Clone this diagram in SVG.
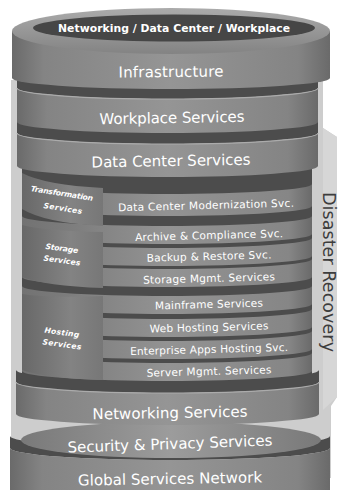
<svg xmlns="http://www.w3.org/2000/svg" width="338" height="490" viewBox="0 0 338 490">
<defs>
<style>
.big{font-family:"DejaVu Sans",Verdana,sans-serif;font-size:15px;fill:#fff;text-anchor:middle}
.row{font-family:"DejaVu Sans",Verdana,sans-serif;font-size:10.6px;fill:#fff;text-anchor:middle}
.col{font-family:"DejaVu Sans",Verdana,sans-serif;font-size:7.6px;font-weight:bold;font-style:italic;fill:#fff;text-anchor:middle}
.face{fill:#4c4c4c}
.side{fill:url(#gSide)}
.rowside{fill:url(#gRow)}
.colside{fill:url(#gCol)}
.hl{fill:none;stroke:#ababab;stroke-width:1.2}
</style>
<linearGradient id="gSide" x1="0" y1="0" x2="1" y2="0">
<stop offset="0" stop-color="#6a6a6a"/><stop offset="0.1" stop-color="#848484"/><stop offset="0.5" stop-color="#959595"/><stop offset="0.9" stop-color="#848484"/><stop offset="1" stop-color="#6a6a6a"/>
</linearGradient>
<linearGradient id="gRow" x1="0" y1="0" x2="1" y2="0">
<stop offset="0" stop-color="#727272"/><stop offset="0.5" stop-color="#939393"/><stop offset="0.92" stop-color="#868686"/><stop offset="1" stop-color="#6a6a6a"/>
</linearGradient>
<linearGradient id="gCol" x1="0" y1="0" x2="1" y2="0">
<stop offset="0" stop-color="#686868"/><stop offset="0.6" stop-color="#838383"/><stop offset="1" stop-color="#777777"/>
</linearGradient>
<linearGradient id="gRim" x1="0" y1="0" x2="0" y2="1">
<stop offset="0" stop-color="#ababab"/><stop offset="1" stop-color="#838383"/>
</linearGradient>
<linearGradient id="gSec" x1="0" y1="0" x2="1" y2="0">
<stop offset="0" stop-color="#797979"/><stop offset="0.5" stop-color="#9c9c9c"/><stop offset="1" stop-color="#797979"/>
</linearGradient>
</defs>
<rect width="338" height="490" fill="#ffffff"/>

<g id="disaster-recovery">
<polygon points="11,80 323,80 323,128 337,137 337,397 331,406 331,478 11,478" fill="#cdcdcd"/>
<polygon points="323,128 337,137 337,397 323,410" fill="#d6d6d6"/>
<text transform="translate(323,272) rotate(90)" font-family="DejaVu Sans,Verdana,sans-serif" font-size="17.5" fill="#3d3d3d" text-anchor="middle" textLength="160">Disaster Recovery</text>
</g>

<g id="global-services-network">
<path class="face" d="M10,436 A160,12 0 0 0 330,436 L330,448 A160,12 0 0 1 10,448 Z"/>
<path class="side" d="M10,448 A160,12 0 0 0 330,448 L330,500 L10,500 Z"/>
<text class="big" x="170" y="484" textLength="184" transform="rotate(-1 170 479)">Global Services Network</text>
</g>

<g id="security-privacy">
<ellipse cx="171" cy="440" rx="150" ry="18" fill="url(#gSec)"/>
<text class="big" x="170" y="449" textLength="205" transform="rotate(-2 170 444)">Security &amp; Privacy Services</text>
</g>

<g id="inner-core">
<rect x="22" y="160" width="290" height="230" fill="#4c4c4c"/>
</g>

<g id="networking-services">
<path class="face" d="M16,370 A151.5,11 0 0 0 319,370 L319,382 A151.5,11 0 0 1 16,382 Z"/>
<path class="side" d="M16,382 A151.5,11 0 0 0 319,382 L319,414 A151.5,11 0 0 1 16,414 Z"/>
<path class="hl" d="M16,382 A151.5,11 0 0 0 319,382"/>
<text class="big" x="170" y="418" textLength="155" transform="rotate(-1 170 413)">Networking Services</text>
</g>

<g id="rows">
<g id="dc-modernization">
<path class="rowside" d="M22,184 A145,10 0 0 0 312,184 L312,206 A145,10 0 0 1 22,206 Z"/>
<text class="row" x="206" y="209" textLength="176" transform="rotate(-1.5 206 205)">Data Center Modernization Svc.</text>
</g>
<g id="archive-compliance">
<path class="rowside" d="M22,216 A145,10 0 0 0 312,216 L312,234 A145,10 0 0 1 22,234 Z"/>
<text class="row" x="209" y="239" textLength="148" transform="rotate(-1.5 209 235)">Archive &amp; Compliance Svc.</text>
</g>
<g id="backup-restore">
<path class="rowside" d="M22,238 A145,10 0 0 0 312,238 L312,256 A145,10 0 0 1 22,256 Z"/>
<text class="row" x="209" y="260" textLength="125" transform="rotate(-1.5 209 256)">Backup &amp; Restore Svc.</text>
</g>
<g id="storage-mgmt">
<path class="rowside" d="M22,259 A145,10 0 0 0 312,259 L312,277 A145,10 0 0 1 22,277 Z"/>
<text class="row" x="209" y="282" textLength="132" transform="rotate(-1.5 209 278)">Storage Mgmt. Services</text>
</g>
<g id="mainframe">
<path class="rowside" d="M22,286 A145,10 0 0 0 312,286 L312,304 A145,10 0 0 1 22,304 Z"/>
<text class="row" x="209" y="308" textLength="108" transform="rotate(-1.5 209 304)">Mainframe Services</text>
</g>
<g id="web-hosting">
<path class="rowside" d="M22,309 A145,10 0 0 0 312,309 L312,327 A145,10 0 0 1 22,327 Z"/>
<text class="row" x="209" y="331" textLength="119" transform="rotate(-1.5 209 327)">Web Hosting Services</text>
</g>
<g id="enterprise-apps">
<path class="rowside" d="M22,331 A145,10 0 0 0 312,331 L312,349 A145,10 0 0 1 22,349 Z"/>
<text class="row" x="209" y="353" textLength="158" transform="rotate(-1.5 209 349)">Enterprise Apps Hosting Svc.</text>
</g>
<g id="server-mgmt">
<path class="rowside" d="M22,353 A145,10 0 0 0 312,353 L312,371 A145,10 0 0 1 22,371 Z"/>
<text class="row" x="209" y="375" textLength="125" transform="rotate(-1.5 209 371)">Server Mgmt. Services</text>
</g>
</g>

<g id="transformation-services">
<path class="colside" d="M22,173 Q45,185 103,188 L103,226 Q45,223 22,209 Z"/>
<text class="col" x="62" y="196" textLength="63" transform="rotate(9 62 193)">Transformation</text>
<text class="col" x="63" y="211" textLength="39" transform="rotate(9 63 208)">Services</text>
</g>
<g id="storage-services">
<path class="colside" d="M22,225 Q45,231 103,232 L103,288 Q45,286 22,277 Z"/>
<text class="col" x="62" y="251" textLength="33" transform="rotate(8 62 248)">Storage</text>
<text class="col" x="62" y="263" textLength="37" transform="rotate(8 62 260)">Services</text>
</g>
<g id="hosting-services">
<path class="colside" d="M22,294 Q45,298 103,296 L103,380 Q45,378 22,370 Z"/>
<text class="col" x="62" y="335" textLength="35" transform="rotate(8 62 332)">Hosting</text>
<text class="col" x="62" y="347" textLength="39" transform="rotate(8 62 344)">Services</text>
</g>

<g id="data-center-services">
<path class="face" d="M17,121 A150.5,11 0 0 0 318,121 L318,133 A150.5,11 0 0 1 17,133 Z"/>
<path class="side" d="M17,133 A150.5,11 0 0 0 318,133 L318,166 A150.5,11 0 0 1 17,166 Z"/>
<path class="hl" d="M17,133 A150.5,11 0 0 0 318,133"/>
<text class="big" x="171" y="166" textLength="159" transform="rotate(-1 171 161)">Data Center Services</text>
</g>

<g id="workplace-services">
<path class="face" d="M17,76 A150.5,11 0 0 0 318,76 L318,88 A150.5,11 0 0 1 17,88 Z"/>
<path class="side" d="M17,88 A150.5,11 0 0 0 318,88 L318,122 A150.5,11 0 0 1 17,122 Z"/>
<path class="hl" d="M17,88 A150.5,11 0 0 0 318,88"/>
<text class="big" x="172" y="123" textLength="145" transform="rotate(-1 172 118)">Workplace Services</text>
</g>

<g id="infrastructure">
<path class="side" d="M12,31 L12,78 A159,11 0 0 0 330,78 L330,31 Z"/>
<text class="big" x="171" y="77" textLength="105" transform="rotate(-0.5 171 72)">Infrastructure</text>
</g>

<g id="top-disk">
<ellipse cx="171" cy="31" rx="159" ry="23" fill="url(#gRim)"/>
<ellipse cx="174" cy="28" rx="141" ry="13.5" fill="#464646"/>
<text x="174" y="32" font-family="DejaVu Sans,Verdana,sans-serif" font-size="10.8" font-weight="bold" fill="#fff" text-anchor="middle" textLength="232">Networking / Data Center / Workplace</text>
</g>
</svg>
